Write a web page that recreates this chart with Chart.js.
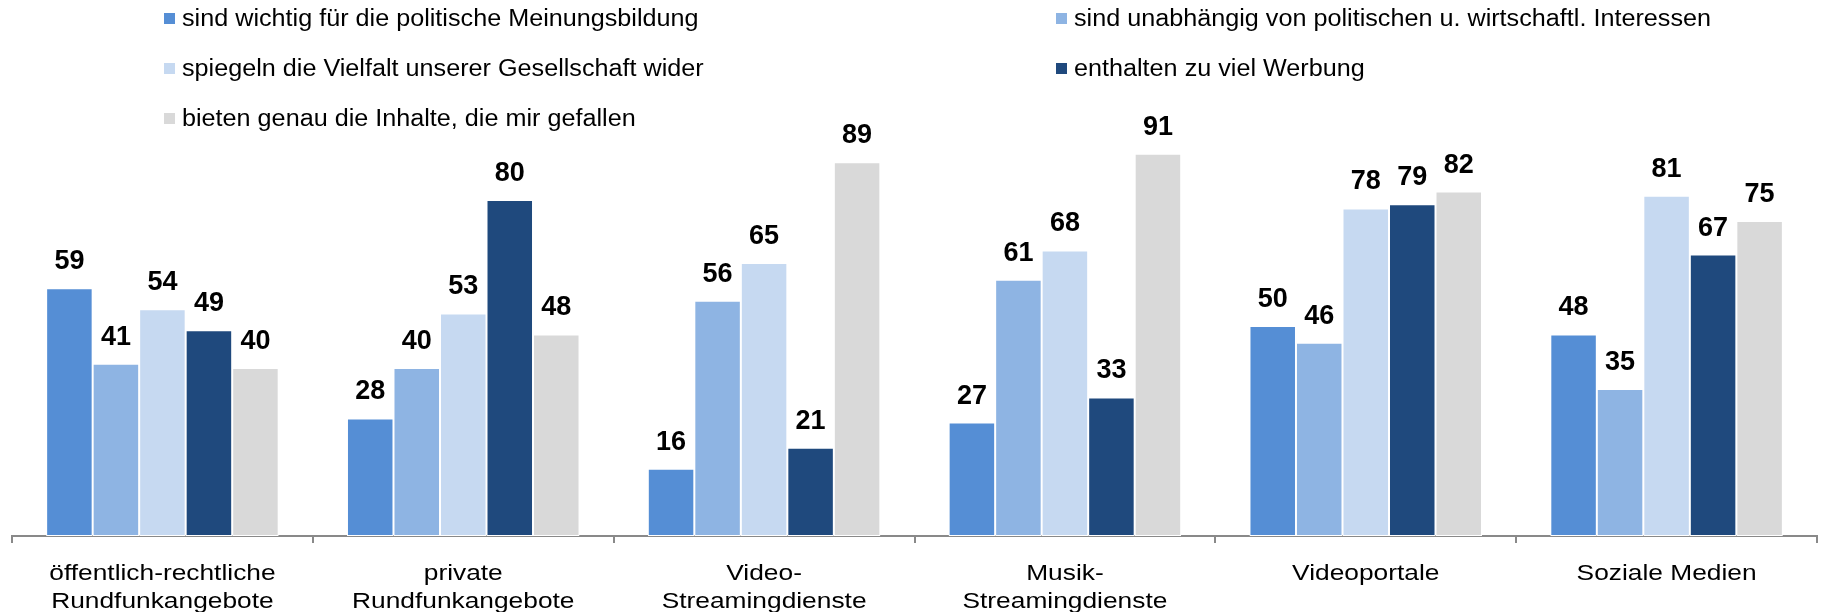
<!DOCTYPE html>
<html>
<head>
<meta charset="utf-8">
<script src="https://cdn.jsdelivr.net/npm/chart.js@4/dist/chart.umd.min.js"></script>
<style>
  html, body { margin: 0; padding: 0; background: #ffffff; }
  #wrap { position: relative; width: 1822px; height: 612px; overflow: hidden; }
  canvas { position: absolute; left: 0; top: 0; }
  .leg { position: absolute; display: flex; align-items: center; height: 30px;
         font-family: "Liberation Sans", Arial, sans-serif; font-size: 23px; color: #000; white-space: nowrap; }
  .leg .sw { width: 11px; height: 11px; margin-right: 7px; flex: none; }
  .leg .tx { display: inline-block; transform: scaleX(1.095); transform-origin: left center; }
</style>
</head>
<body>
<div id="wrap">
  <canvas id="c" width="1822" height="612"></canvas>
  <div id="legend"></div>
</div>
<script>
const categories = [
  ["öffentlich-rechtliche", "Rundfunkangebote"],
  ["private", "Rundfunkangebote"],
  ["Video-", "Streamingdienste"],
  ["Musik-", "Streamingdienste"],
  ["Videoportale"],
  ["Soziale Medien"]
];
const seriesNames = [
  "sind wichtig für die politische Meinungsbildung",
  "sind unabhängig von politischen u. wirtschaftl. Interessen",
  "spiegeln die Vielfalt unserer Gesellschaft wider",
  "enthalten zu viel Werbung",
  "bieten genau die Inhalte, die mir gefallen"
];
const wichtig     = [59, 28, 16, 27, 50, 48];
const unabhaengig = [41, 40, 56, 61, 46, 35];
const vielfalt    = [54, 53, 65, 68, 78, 81];
const werbung     = [49, 80, 21, 33, 79, 67];
const inhalte     = [40, 48, 89, 91, 82, 75];
const seriesValues = [wichtig, unabhaengig, vielfalt, werbung, inhalte];
const seriesColors = ["#558ED5", "#8EB4E3", "#C6D9F1", "#1F497D", "#D9D9D9"];

// HTML legend (2 columns, 3 rows)
const legendPos = [
  { x: 164, y: 18.5 }, { x: 1056, y: 18.5 },
  { x: 164, y: 68 },   { x: 1056, y: 68 },
  { x: 164, y: 118 }
];
const legendEl = document.getElementById('legend');
seriesNames.forEach((name, i) => {
  const d = document.createElement('div');
  d.className = 'leg';
  d.style.left = legendPos[i].x + 'px';
  d.style.top = (legendPos[i].y - 15) + 'px';
  const sw = document.createElement('span');
  sw.className = 'sw';
  sw.style.background = seriesColors[i];
  const tx = document.createElement('span');
  tx.className = 'tx';
  tx.textContent = name;
  d.appendChild(sw); d.appendChild(tx);
  legendEl.appendChild(d);
});

const valueLabels = {
  id: 'valueLabels',
  afterDatasetsDraw(chart) {
    const ctx = chart.ctx;
    ctx.save();
    ctx.font = 'bold 27px "Liberation Sans", Arial, sans-serif';
    ctx.fillStyle = '#000';
    ctx.textAlign = 'center';
    ctx.textBaseline = 'alphabetic';
    chart.data.datasets.forEach((ds, i) => {
      const meta = chart.getDatasetMeta(i);
      meta.data.forEach((bar, j) => {
        ctx.fillText(String(ds.data[j]), bar.x, bar.y - 19);
      });
    });
    ctx.restore();
  }
};

// Widen the category labels horizontally (the reference font is wider than Arial)
const stretchTicks = {
  id: 'stretchTicks',
  afterLayout(chart) {
    const s = chart.scales.x;
    if (!s || s.__patched) return;
    s.__patched = true;
    const orig = s.drawLabels;
    s.drawLabels = function (area) {
      const ctx = this.ctx;
      const origRotate = ctx.rotate;
      ctx.rotate = function (a) { origRotate.call(ctx, a); ctx.scale(1.17, 1); };
      try { orig.call(this, area); } finally { delete ctx.rotate; }
    };
  }
};

new Chart(document.getElementById('c'), {
  type: 'bar',
  data: {
    labels: categories,
    datasets: seriesNames.map((n, i) => ({
      label: n,
      data: seriesValues[i],
      backgroundColor: seriesColors[i],
      borderColor: '#ffffff',
      borderWidth: 1,
      borderSkipped: false,
      categoryPercentage: 0.773,
      barPercentage: 1.0
    }))
  },
  options: {
    responsive: false,
    animation: false,
    layout: { padding: { top: 116, left: 12, right: 5, bottom: 0 } },
    plugins: { legend: { display: false }, tooltip: { enabled: false } },
    scales: {
      y: { display: false, min: 0, max: 100 },
      x: {
        border: { display: true, color: '#898989', width: 2 },
        grid: { display: true, drawOnChartArea: false, drawTicks: true, tickLength: 7, color: '#898989', lineWidth: 2, offset: true },
        ticks: {
          color: '#000',
          padding: 17,
          maxRotation: 0,
          autoSkip: false,
          font: { family: '"Liberation Sans", Arial, sans-serif', size: 22.5, lineHeight: 1.25 }
        },
        afterFit(scale) { scale.height = 76; }
      }
    }
  },
  plugins: [valueLabels, stretchTicks]
});
</script>
</body>
</html>
